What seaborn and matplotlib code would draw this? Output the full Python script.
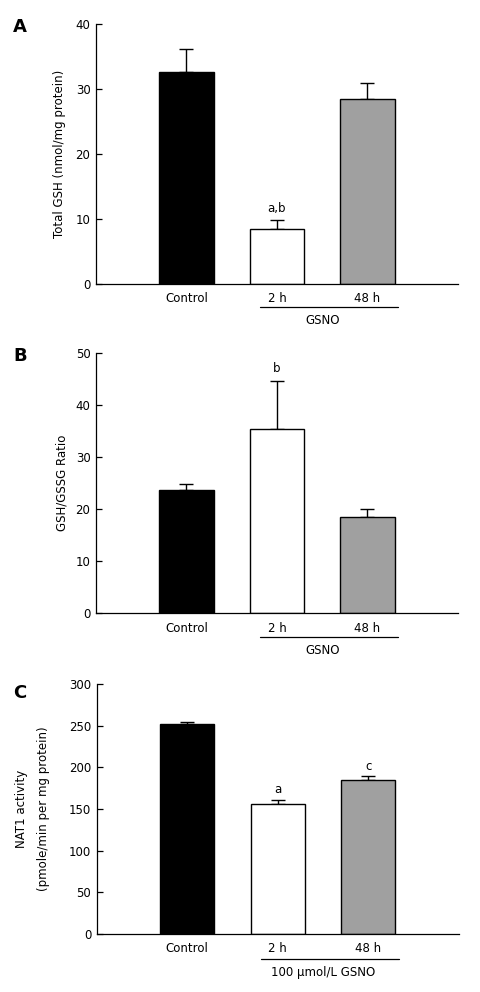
import matplotlib
matplotlib.use("Agg")
import matplotlib.pyplot as plt
import seaborn as sns

sns.set_style("ticks", rc={"text.color": "black", "axes.labelcolor": "black",
                           "xtick.color": "black", "ytick.color": "black",
                           "axes.edgecolor": "black"})
plt.rcParams['font.family'] = ['DejaVu Sans']

groups = ["Control", "2 h", "48 h"]
colors = ["#000000", "#ffffff", "#a0a0a0"]

gsh_total = [32.6, 8.4, 28.4]
gsh_total_err = [3.5, 1.45, 2.5]
gsh_ratio = [23.6, 35.3, 18.5]
gsh_ratio_err = [1.3, 9.2, 1.45]
nat1 = [252.5, 155.6, 184.4]
nat1_err = [1.5, 5.6, 5.6]

labels_a = ["", "a,b", ""]
labels_b = ["", "b", ""]
labels_c = ["", "a", "c"]
# gap between error bar top and letter baseline, in points
gaps_a = [0, 6, 0]
gaps_b = [0, 6.5, 0]
gaps_c = [0, 4.5, 3.8]

panels = [
    # letter, values, errors, letters, gaps, ylabel, ymax, step, axes box, group text,
    # line y, text y, ylabel x, letter y
    ("A", gsh_total, gsh_total_err, labels_a, gaps_a, "Total GSH (nmol/mg protein)", 40, 10,
     [0.1996, 0.7137, 0.7524, 0.2621], "GSNO", -0.087, -0.140, -0.101, 27),
    ("B", gsh_ratio, gsh_ratio_err, labels_b, gaps_b, "GSH/GSSG Ratio", 50, 10,
     [0.1996, 0.3817, 0.7524, 0.2628], "GSNO", -0.092, -0.143, -0.095, 356),
    ("C", nat1, nat1_err, labels_c, gaps_c, "NAT1 activity\n(pmole/min per mg protein)", 300, 50,
     [0.2010, 0.0585, 0.7530, 0.2520], "100 \u03bcmol/L GSNO", -0.101, -0.155, -0.177, 693),
]

fig = plt.figure(figsize=(4.81, 9.92), dpi=100)

for letter, vals, errs, marks, gaps, ylab, ymax, step, box, gtext, line_y, text_y, lab_x, let_y in panels:
    ax = fig.add_axes(box)
    sns.barplot(x=groups, y=vals, hue=groups, palette=colors, edgecolor="black",
                linewidth=1, width=0.6, legend=False, ax=ax, zorder=2)
    ax.errorbar(range(len(groups)), vals, yerr=[[0] * len(errs), errs], fmt="none",
                ecolor="black", elinewidth=1, capsize=5, capthick=1, zorder=1)
    for i, m in enumerate(marks):
        if m:
            ax.annotate(m, (i, vals[i] + errs[i]), xytext=(0, gaps[i]),
                        textcoords="offset points", ha="center", va="baseline", fontsize=8.5)
    ax.set_xlim(-1, 3)
    ax.set_ylim(0, ymax)
    ax.set_yticks(range(0, ymax + 1, step))
    ax.set_ylabel(ylab, fontsize=8.5, va="center", linespacing=1.9)
    ax.yaxis.set_label_coords(lab_x, 0.5)
    ax.tick_params(axis="y", labelsize=8.5, direction="in", length=4, width=0.9, pad=4)
    ax.tick_params(axis="x", labelsize=8.5, length=0, pad=6)
    sns.despine(ax=ax)
    for sp in ["left", "bottom"]:
        ax.spines[sp].set_linewidth(0.9)

    trans = ax.get_xaxis_transform()
    ax.plot([0.81, 2.34], [line_y, line_y], color="black", lw=0.9,
            transform=trans, clip_on=False)
    ax.text(1.5, text_y, gtext, transform=trans, ha="center", va="center", fontsize=8.5)

    fig.text(0.027, 1 - let_y / 992, letter, fontsize=13, fontweight="bold",
             ha="left", va="center")

fig.savefig("out.png", dpi=100)
